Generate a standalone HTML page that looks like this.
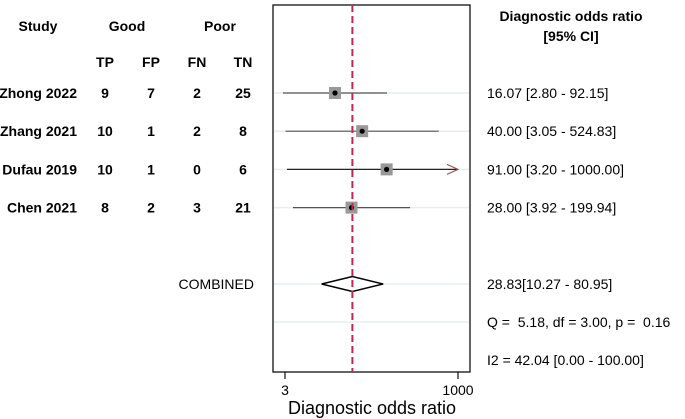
<!DOCTYPE html>
<html><head><meta charset="utf-8"><style>
body{margin:0;background:#fff;}
svg{display:block;font-family:"Liberation Sans",Arial,sans-serif;}
text{white-space:pre;}
</style></head><body>
<svg id="c" width="685" height="419" viewBox="0 0 685 419">
<g font-weight="bold" font-size="14" fill="#000" text-anchor="middle">
<text x="38" y="31">Study</text>
<text x="127" y="31">Good</text>
<text x="220" y="31">Poor</text>
<text x="105" y="67">TP</text>
<text x="151" y="67">FP</text>
<text x="197" y="67">FN</text>
<text x="243" y="67">TN</text>
</g>
<g font-weight="bold" font-size="14" text-anchor="middle">
<text x="571" y="21">Diagnostic odds ratio</text>
<text x="571" y="41">[95% CI]</text>
</g>
<rect x="273" y="5" width="197" height="367" fill="none" stroke="#111" stroke-width="1.3"/>
<g id="rows"></g>
<text x="254" y="289" font-size="14" text-anchor="end">COMBINED</text>
<text x="487" y="289" font-size="14">28.83[10.27 - 80.95]</text>
<text x="487" y="327" font-size="14">Q =  5.18, df = 3.00, p =  0.16</text>
<text x="487" y="365" font-size="14">I2 = 42.04 [0.00 - 100.00]</text>
<text x="372" y="414" font-size="18" text-anchor="middle">Diagnostic odds ratio</text>
</svg>
<script>
const studies=["Zhong 2022","Zhang 2021","Dufau 2019","Chen 2021"];
const tp=[9,10,10,8], fp=[7,1,1,2], fn=[2,2,0,3], tn=[25,8,6,21];
const dor=[16.07,40.00,91.00,28.00];
const lo=[2.80,3.05,3.20,3.92];
const hi=[92.15,524.83,1000.00,199.94];
const pooled=[28.83,10.27,80.95];
const ticks=[3,1000];
const NS="http://www.w3.org/2000/svg";
const svg=document.getElementById('c');
const g=document.getElementById('rows');
const x=v=>285+(Math.log10(v)-Math.log10(3))*(173/Math.log10(1000/3));
const rowY=i=>93+i*38.2;
function el(t,a,p){const e=document.createElementNS(NS,t);for(const k in a)e.setAttribute(k,a[k]);(p||g).appendChild(e);return e;}
[0,1,2,3].forEach(i=>{const l=el('line',{x1:274,x2:469,y1:rowY(i),y2:rowY(i),stroke:'#e6eef2','stroke-width':1.5});

});
[284,322].forEach(y=>{const l=el('line',{x1:274,x2:469,y1:y,y2:y,stroke:'#e6eef2','stroke-width':1.5});

});
ticks.forEach(t=>{const l=el('line',{x1:x(t),x2:x(t),y1:372,y2:379,stroke:'#111','stroke-width':1.2});


const tx=el('text',{x:x(t),y:395,'font-size':14,'text-anchor':'middle'});tx.textContent=t;

});
studies.forEach((s,i)=>{
 const y=rowY(i);
 const cols=[[77,s,'end'],[105,tp[i],'middle'],[151,fp[i],'middle'],[197,fn[i],'middle'],[243,tn[i],'middle']];
 cols.forEach((c,j)=>{const t=el('text',{x:c[0],y:y+5,'font-size':14,'font-weight':'bold','text-anchor':c[2]},svg);t.textContent=c[1];
 
 });
 const v=el('text',{x:487,y:y+5,'font-size':14},svg);
 v.textContent=dor[i].toFixed(2)+' ['+lo[i].toFixed(2)+' - '+hi[i].toFixed(2)+']';
 
 
 const clip=hi[i]>=1000;
 const ln=el('line',{x1:x(lo[i]),x2:x(Math.min(hi[i],1000)),y1:y,y2:y,stroke:clip?'#3a1a1a':'#555','stroke-width':1.2});
 
 
 if(clip){const a=el('polyline',{points:(x(1000)-11)+','+(y-5)+' '+x(1000)+','+y+' '+(x(1000)-11)+','+(y+5),fill:'none',stroke:'#9a4a4a','stroke-width':1.1});
 
 }
 const sq=el('rect',{x:x(dor[i])-6,y:y-6,width:12,height:12,fill:'#999'});
 
 
 const d=el('circle',{cx:x(dor[i]),cy:y,r:2.6,fill:'#000'});
 
 
});
const dm=el('polygon',{points:`${x(pooled[1])},284 ${x(pooled[0])},276.5 ${x(pooled[2])},284 ${x(pooled[0])},291.5`,fill:'#fff',stroke:'#000','stroke-width':1.5});


const rl=el('line',{x1:x(pooled[0]),x2:x(pooled[0]),y1:5,y2:372,stroke:'#c8234f','stroke-width':2,'stroke-dasharray':'7,4'});


</script>
</body></html>
